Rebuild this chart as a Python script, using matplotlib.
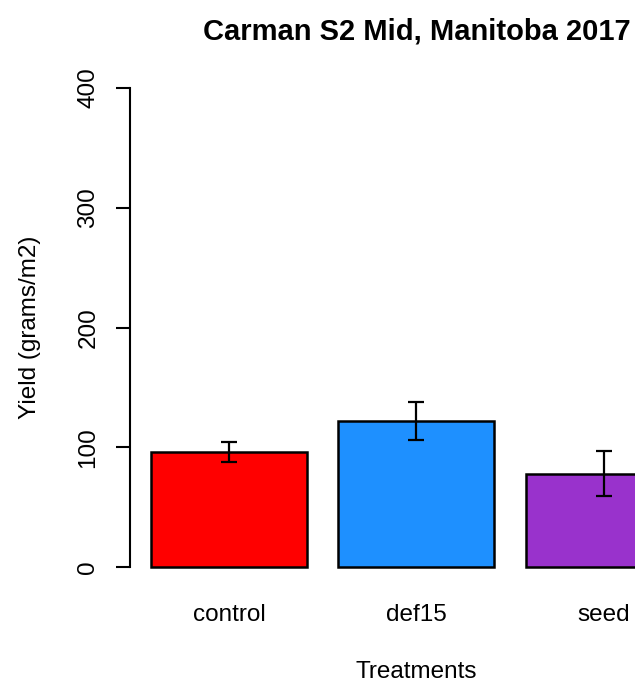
import matplotlib
matplotlib.use("Agg")
import matplotlib.pyplot as plt
import numpy as np

plt.rcParams['font.family'] = ['Liberation Sans', 'DejaVu Sans']

# data
treatments = ["control", "def15", "seed"]
yield_mean = [95.8, 121.7, 77.9]
yield_err = [8.3, 16.0, 18.8]
bar_colors = ["#FF0000", "#1E90FF", "#9932CC"]

# R-style barplot geometry: width 1, space 0.2
x = 0.2 + 0.5 + np.arange(len(treatments)) * 1.2

fig = plt.figure(figsize=(6.35, 6.86), dpi=100)
# plot region extends past the right edge of the image (the original was cropped)
ax = fig.add_axes([130 / 635, (686 - 586.2) / 686, 572.8 / 635, 517.4 / 686])

ax.bar(x, yield_mean, width=1.0, color=bar_colors, edgecolor="black", linewidth=1.8, zorder=2)
ax.errorbar(x, yield_mean, yerr=yield_err, fmt="none", ecolor="black",
            elinewidth=1.6, capsize=6, capthick=1.6, zorder=3)

ax.set_xlim(0.064, 3.736)
ax.set_ylim(-16, 416)

for s in ["top", "right", "bottom"]:
    ax.spines[s].set_visible(False)
ax.spines["left"].set_bounds(0, 400)
ax.spines["left"].set_linewidth(1.5)

ax.set_yticks([0, 100, 200, 300, 400])
ax.set_yticklabels(["0", "100", "200", "300", "400"], rotation=90, va="center", fontsize=17.5)
ax.tick_params(axis="y", length=10, width=1.5, pad=12)

ax.set_xticks(x)
ax.set_xticklabels(treatments, fontsize=17.5)
ax.tick_params(axis="x", length=0, pad=13)

ax.set_xlabel("Treatments", fontsize=17.5, labelpad=25)
ax.set_ylabel("Yield (grams/m2)", fontsize=17.5, labelpad=26)
ax.set_title("Carman S2 Mid, Manitoba 2017", fontsize=21, fontweight="bold", pad=21)

fig.savefig("out.png", dpi=100)
